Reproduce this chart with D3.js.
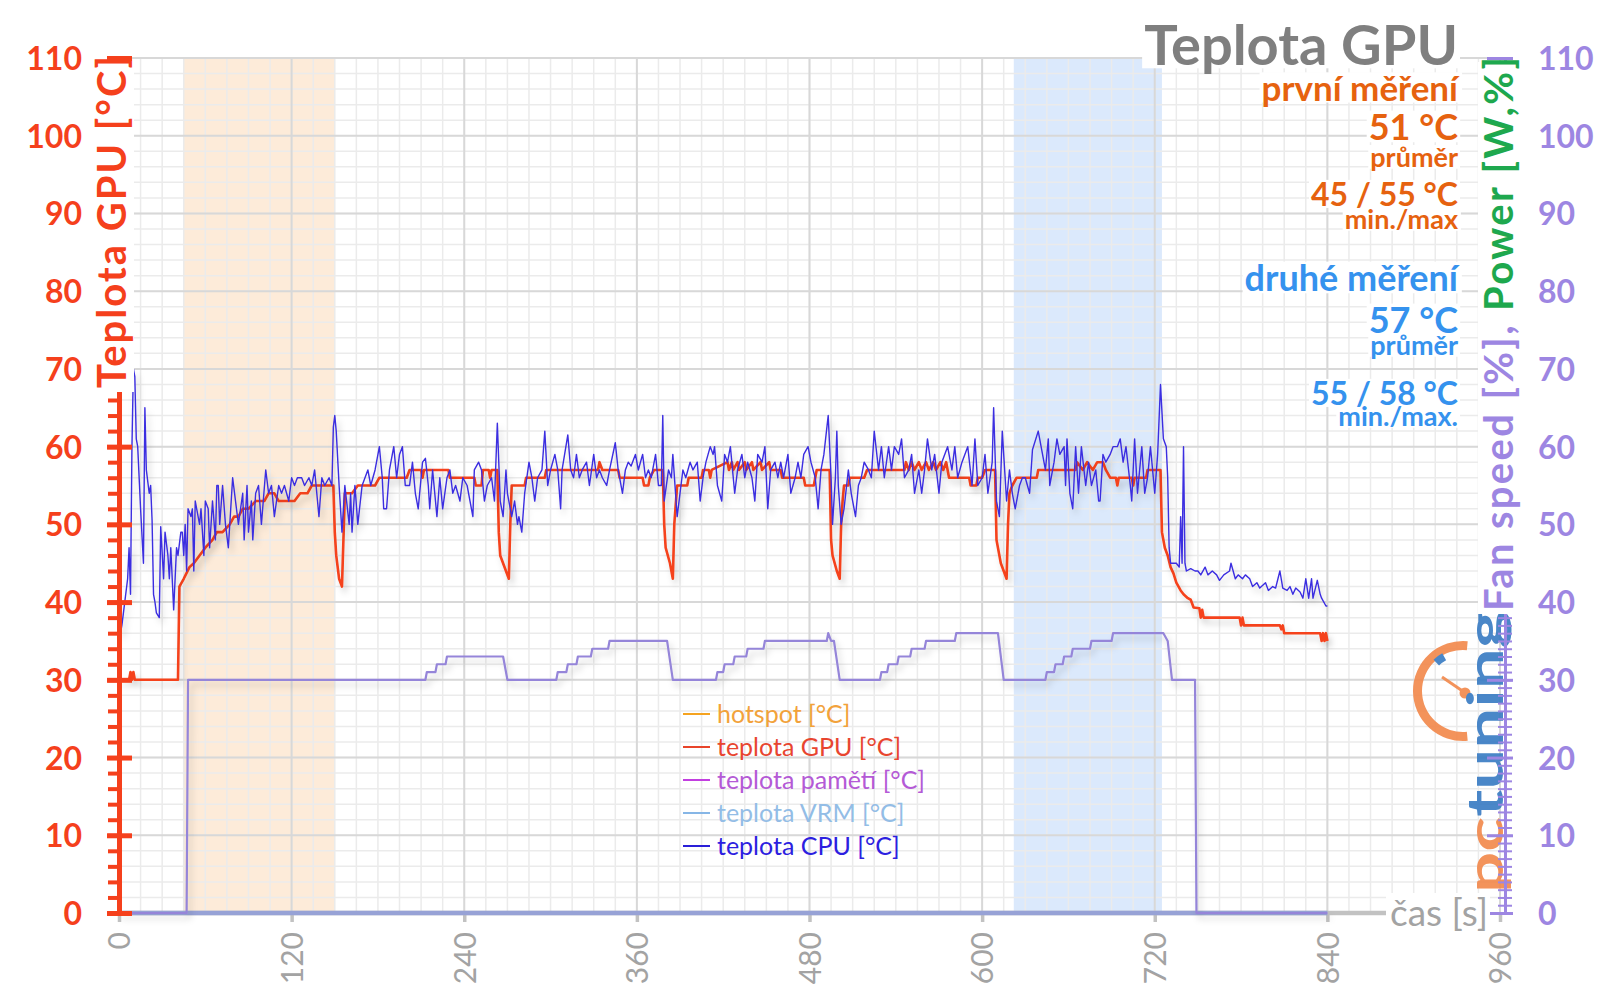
<!DOCTYPE html>
<html><head><meta charset="utf-8">
<script src="https://cdn.jsdelivr.net/npm/d3@7"></script>
<style>body{margin:0;background:#fff}svg{display:block;font-family:Lato,"Open Sans",sans-serif}</style>
</head><body>
<svg id="chart" width="1600" height="1008"></svg>
<script>
// ---------------- DATA ----------------
const xTicks = [0,120,240,360,480,600,720,840,960];
const yTicks = [0,10,20,30,40,50,60,70,80,90,100,110];
const xLabel = "čas [s]";
const yLeftTitle = "Teplota GPU [°C]";
const yRightTitleA = "Fan speed [%], ";
const yRightTitleB = "Power [W,%]";
const chartTitle = "Teplota GPU";
const statsFirst = ["první měření","51 °C","průměr","45 / 55 °C","min./max"];
const statsSecond = ["druhé měření","57 °C","průměr","55 / 58 °C","min./max."];
const legendNames = ["hotspot [°C]","teplota GPU [°C]","teplota pamětí [°C]","teplota VRM [°C]","teplota CPU [°C]"];
// highlighted measurement windows [start s, end s]
const windows = [[45,150],[622,725]];
// series lying on the zero line (hotspot / memory / VRM readings)
const zeroSeries = [[0,0],[840,0]];

const gpuTemp = [[0,30],[7,30],[8,31],[9,30],[10,31],[11,30],[41,30],[42,42],[45,43],[49,44.5],[52,45],[56,46],[60,47],[65,48],[68,49],[72,49],[77,50],[80,51],[83,51],[86,52],[90,52],[95,53],[101,53],[104,54],[108,54],[111,53],[122,53],[126,54],[131,54],[134,55],[149,55],[150,49],[151,46],[153,43],[155,42],[156,48],[157,54],[162,54],[166,55],[178,55],[181,56],[200,56],[202,57],[210,57],[211,56],[212,57],[229,57],[230,56],[247,56],[248,55],[252,55],[253,57],[257,57],[258,56],[259,57],[263,57],[264,49],[265,46],[267,45],[271,43],[272,50],[273,55],[282,55],[283,56],[296,56],[297,57],[333,57],[334,58],[336,57],[347,57],[348,56],[364,56],[365,55],[368,55],[369,56],[372,57],[378,57],[379,50],[380,47],[383,45],[385,43],[386,50],[388,55],[395,55],[396,56],[405,56],[406,57],[410,57],[411,56],[412,57],[423,58],[424,57],[426,58],[427,57],[430,58],[431,57],[435,58],[436,57],[440,58],[441,57],[446,58],[447,57],[452,58],[453,57],[460,57],[461,56],[476,56],[477,55],[483,55],[484,56],[485,57],[494,57],[495,48],[496,46],[499,44],[501,43],[502,50],[503,53],[504,55],[507,55],[508,56],[518,56],[520,57],[546,57],[547,58],[549,57],[551,58],[553,57],[556,58],[558,57],[561,58],[563,57],[566,58],[568,57],[571,58],[573,57],[575,58],[576,57],[577,56],[591,56],[592,55],[596,55],[597,56],[600,56],[602,57],[609,57],[610,48],[613,45],[615,44],[617,43],[618,50],[619,54],[621,55],[624,56],[638,56],[639,57],[665,57],[666,58],[670,57],[673,58],[677,57],[680,58],[684,58],[686,57],[689,56],[693,56],[694,55],[695,56],[704,56],[705,55],[706,56],[714,56],[715,57],[724,57],[725,49],[727,47],[729,46],[731,44.5],[733,43.7],[735,42.5],[738,41.5],[740,41],[743,40.5],[745,40.3],[747,39.3],[751,39.2],[752,38],[753,39],[754,38],[779,38],[780,37],[781,38],[782,37],[807,37],[808,36.5],[809,37],[810,36],[835,36],[836,35],[837,36],[838,35],[839,36],[840,35]];

const cpuTemp = [[0,40],[1,36],[2,37],[4,40],[6,43],[7,47],[8,41],[9,60],[10,70],[11,69],[12,61],[13,60],[15,52],[17,45],[18,65],[19,57],[21,54],[22,55],[23,50.5],[24,41],[25,40],[26,38.6],[28,38],[29,49.7],[31,43],[32,49],[34,46],[35,43],[36,47],[38,39],[40,47],[41,46],[43,49],[44,49],[45,46],[46,50],[47,44],[48,52],[50,51],[51,52],[52,44],[53,53],[55,51],[56,50],[57,52],[59,46],[60,53],[62,52],[63,47],[65,53],[67,48],[68,55],[69,55],[70,50],[72,55],[74,50],[76,47],[79,56],[81,53],[83,50],[86,54],[87,48],[89,55],[90,49],[92,53],[93,48],[95,54],[97,55],[99,50],[102,57],[104,54],[106,55],[108,51],[111,55],[113,54],[115,55],[118,53],[120,56],[122,55],[124,56],[127,56],[129,55],[132,56],[134,55],[136,57],[139,51],[141,56],[143,55],[146,56],[148,55],[149,62.5],[150,64],[151,62],[153,55],[155,49],[157,55],[160,50],[161,54],[162,49],[164,55],[166,50],[169,55],[171,56],[173,57],[175,55],[178,57],[181,60],[183,56],[184,52],[186,52],[188,57],[191,60],[193,56],[195,59],[197,60],[199,55],[202,55],[204,58],[206,54],[208,52],[211,58],[213,58.5],[215,55],[216,52],[218,57],[221,51],[223,56],[225,52],[228,56],[230,57],[232,54],[234,55],[237,53],[239,56],[242,55],[244,53],[246,51],[247,57],[250,58],[252,57],[254,53],[256,55],[259,56],[261,53],[263,63],[265,53],[267,51],[269,57],[270,54],[272,52],[273,51],[275,53],[277,50],[278,51],[280,49],[282,54],[285,58],[287,56],[289,53],[291,56],[294,57],[296,62],[298,55],[300,57],[303,59],[305,57],[307,52],[308,57],[312,61.5],[314,57],[316,56],[318,59],[320,56],[322,57],[325,58],[327,55],[330,59],[332,56],[334,57],[336,56],[339,55],[341,57],[345,60.5],[347,57],[350,54],[352,57],[354,58],[356,57.5],[359,59],[361,57],[364,59],[366,56],[368,57],[370,56],[373,59],[375,55],[377,55],[378,64],[379,53],[382,57],[384,56],[385,59],[388,51],[390,54],[392,57],[394,56],[397,58],[399,57],[402,58],[404,53],[406,56],[408,58],[411,60],[413,59],[414,60],[416,55],[419,53],[421,59],[423,58],[425,60],[428,54],[430,57],[433,59],[435,56],[437,58],[440,56],[442,53],[444,59],[447,58],[449,60],[451,52],[453,57],[456,58],[458,56],[460,58],[462,56],[465,59],[467,54],[470,56],[472,58],[474,56],[476,59],[479,60],[481,58],[484,56],[486,52],[488,57],[490,59],[493,64],[495,56],[496,50],[498,56],[499,62],[500,55],[502,50],[504,52],[507,57],[509,54],[512,51],[514,55],[516,56],[518,58],[521,57],[523,56],[525,62],[528,57],[530,60],[532,56],[535,60],[537,57],[539,60],[542,59],[544,61],[546,56],[549,57],[551,59],[553,54],[556,57],[558,54],[560,57],[562,61],[565,57],[567,59],[570,54],[572,58],[574,59],[576,60],[579,57],[581,60],[583,56],[586,58],[588,59],[590,60],[593,55],[595,61],[597,55],[600,56],[602,59],[604,54],[607,58],[608,65],[610,53],[612,51],[614,62],[617,53],[619,57],[621,54],[623,52],[626,55],[628,56],[630,56],[633,54],[635,59.6],[639,62],[641,60],[644,57],[646,61],[647,55],[650,58],[652,61],[654,59],[657,60],[658,55],[659,61],[661,54],[663,52],[665,60],[667,54],[669,60],[672,55],[674,58],[676,55],[679,57],[681,53],[682,53],[684,59],[686,58],[689,59],[691,60],[694,60],[696,61],[698,58],[700,60],[703,55],[704,53],[706,61],[708,54],[711,60],[713,54],[715,56],[717,60],[720,54],[722,59],[724,68],[726,61],[728,60],[729,56],[730,47],[731,45],[733,45],[735,45],[737,44.5],[738,51],[739,45],[740,60],[741,45],[742,44],[745,44.3],[748,44],[750,44],[752,43.5],[755,44.5],[757,43.5],[760,44],[763,43.5],[765,42.8],[768,43.5],[772,44],[773,45],[776,43],[778,43.5],[781,43],[783,43.5],[786,43],[788,42],[791,42.5],[793,41.8],[797,42.5],[799,41.5],[802,42],[804,41.8],[807,44],[809,41.8],[812,41.5],[814,42],[816,41],[818,41.8],[821,41.3],[823,40.5],[825,43],[827,40.5],[829,43],[830,40.5],[833,42.8],[835,41],[836,40.5],[839,39.5],[840,39.5]];

const fanSpeed = [[0,0],[47,0],[48,30],[213,30],[214,31],[220,31],[221,32],[227,32],[228,33],[267,33],[270,30],[304,30],[305,31],[311,31],[312,32],[318,32],[319,33],[328,33],[329,34],[340,34],[341,35],[381,35],[385,30],[415,30],[416,31],[420,31],[421,32],[427,32],[428,33],[436,33],[437,34],[448,34],[449,35],[492,35],[493,36],[495,35],[497,35],[501,30],[529,30],[530,31],[534,31],[535,32],[541,32],[542,33],[550,33],[551,34],[560,34],[561,35],[581,35],[582,36],[611,36],[615,30],[644,30],[645,31],[650,31],[651,32],[656,32],[657,33],[662,33],[663,34],[675,34],[676,35],[690,35],[691,36],[726,36],[729,35],[732,30],[748,30],[749,0],[840,0]];

// ---------------- STYLE ----------------
const C = {
  left:"#f5401c", right:"#9d86e2", green:"#1ea84e", gray:"#a3a3a3", title:"#7f7f7f",
  orange:"#e6620f", blue:"#3592ee",
  gpu:"#f5421b", cpu:"#3b2de0", fan:"#9585d9", zero:"#97a2d6",
  winFill:["#fdebd9","#dbe9fc"],
  legLine:["#f5a31f","#e8442a","#c23fe0","#86b6e6","#2a1fd8"],
  legText:["#f2a23a","#e8452f","#b45ad6","#93bde6","#2c20e0"]
};

const svg = d3.select("#chart");
const x = d3.scaleLinear().domain([0,960]).range([119,1500]);
const yL = d3.scaleLinear().domain([0,110]).range([913,58]);
const yR = d3.scaleLinear().domain([0,110]).range([913,58]);

svg.append("rect").attr("width",1600).attr("height",1008).attr("fill","#fff");

const defs = svg.append("defs");
const flt = defs.append("filter").attr("id","shadow").attr("x","-10%").attr("y","-20%").attr("width","125%").attr("height","150%");
flt.append("feDropShadow").attr("dx",3).attr("dy",5).attr("stdDeviation",3).attr("flood-color","#000").attr("flood-opacity",0.18);

// measurement windows
svg.append("g").selectAll("rect").data(windows).join("rect")
  .attr("x",d=>x(d[0])).attr("width",d=>x(d[1])-x(d[0]))
  .attr("y",yL(110)).attr("height",yL(0)-yL(110))
  .attr("fill",(d,i)=>C.winFill[i]);

// grid
const grid = svg.append("g");
grid.selectAll("line.vmin").data(d3.range(0,961,15)).join("line")
  .attr("x1",d=>x(d)).attr("x2",d=>x(d)).attr("y1",yL(110)).attr("y2",yL(0))
  .attr("stroke","#ebebeb").attr("stroke-width",1.5);
grid.selectAll("line.hmin").data(d3.range(0,111,2)).join("line")
  .attr("y1",d=>yL(d)).attr("y2",d=>yL(d)).attr("x1",x(0)).attr("x2",x(960))
  .attr("stroke","#ebebeb").attr("stroke-width",1.5);
grid.append("g").selectAll("line").data(xTicks).join("line")
  .attr("x1",d=>x(d)).attr("x2",d=>x(d)).attr("y1",yL(110)).attr("y2",yL(0))
  .attr("stroke","#d8d8d8").attr("stroke-width",2);
grid.append("g").selectAll("line").data(yTicks).join("line")
  .attr("y1",d=>yL(d)).attr("y2",d=>yL(d)).attr("x1",x(0)).attr("x2",x(960))
  .attr("stroke","#d8d8d8").attr("stroke-width",2);

// logo (pctuning)
const logo = svg.append("g").attr("opacity",0.92);
const arc = d3.arc();
logo.append("path").attr("transform","translate(1463,691)")
  .attr("d",arc({innerRadius:41,outerRadius:50,startAngle:Math.PI*0.97,endAngle:Math.PI*2.03}))
  .attr("fill","#f28a4e");
logo.append("path").attr("transform","translate(1463,691)")
  .attr("d",arc({innerRadius:35,outerRadius:43,startAngle:Math.PI*1.76,endAngle:Math.PI*1.84}))
  .attr("fill","#3b7dc4");
logo.append("line").attr("x1",1442).attr("y1",677).attr("x2",1464).attr("y2",692)
  .attr("stroke","#f28a4e").attr("stroke-width",3);
logo.append("circle").attr("cx",1465).attr("cy",693).attr("r",5.5).attr("fill","#f28a4e");
const lt = logo.append("text").attr("transform","translate(1503,893) rotate(-90)")
  .attr("font-size",50).attr("font-weight",700).attr("textLength",283).attr("lengthAdjust","spacingAndGlyphs");
lt.append("tspan").attr("fill","#f28a4e").text("pc");
lt.append("tspan").attr("fill","#3b7dc4").text("tuning");

// x axis (gray)
svg.append("line").attr("x1",x(0)).attr("x2",1392).attr("y1",yL(0)).attr("y2",yL(0))
  .attr("stroke","#c2c2c2").attr("stroke-width",4.5);
const xAx = svg.append("g").attr("transform",`translate(0,${yL(0)})`)
  .call(d3.axisBottom(x).tickValues(xTicks).tickSize(9).tickSizeOuter(0).tickFormat(d3.format("d")));
xAx.select(".domain").remove();
xAx.selectAll(".tick line").attr("stroke","#c2c2c2").attr("stroke-width",3.5);
xAx.selectAll(".tick text").attr("transform","rotate(-90)").attr("x",-19).attr("y",0).attr("dy","0.36em")
  .attr("text-anchor","end").attr("fill",C.gray).attr("font-size",30).attr("font-family","Lato");

// series
const line = (ys)=>d3.line().x(d=>x(d[0])).y(d=>ys(d[1]));
svg.append("path").datum(zeroSeries).attr("d",line(yL)).attr("fill","none").attr("stroke",C.zero).attr("stroke-width",4.5);
svg.append("path").datum(gpuTemp).attr("d",line(yL)).attr("fill","none").attr("stroke",C.gpu)
  .attr("stroke-width",2.6).attr("stroke-linejoin","round").attr("filter","url(#shadow)");
svg.append("path").datum(cpuTemp).attr("d",line(yL)).attr("fill","none").attr("stroke",C.cpu)
  .attr("stroke-width",1.4).attr("stroke-linejoin","round").attr("filter","url(#shadow)");
svg.append("path").datum(fanSpeed).attr("d",line(yR)).attr("fill","none").attr("stroke",C.fan)
  .attr("stroke-width",2.2).attr("stroke-linejoin","round").attr("filter","url(#shadow)");

// left axis
const lMinor = svg.append("g").attr("transform",`translate(${x(0)},0)`)
  .call(d3.axisLeft(yL).tickValues(d3.range(0,111,2)).tickSize(11).tickSizeOuter(0).tickFormat(""));
lMinor.select(".domain").attr("stroke",C.left).attr("stroke-width",5);
lMinor.selectAll(".tick line").attr("stroke",C.left).attr("stroke-width",4);
const lMajor = svg.append("g").attr("transform",`translate(${x(0)},0)`)
  .call(d3.axisLeft(yL).tickValues(yTicks).tickSize(12).tickSizeOuter(0));
lMajor.select(".domain").remove();
lMajor.selectAll(".tick line").attr("x1",13).attr("x2",-12).attr("stroke",C.left).attr("stroke-width",5);
lMajor.selectAll(".tick text").attr("x",-37).attr("dy","0.36em").attr("fill",C.left)
  .attr("font-size",32).attr("font-weight",700).attr("font-family","Lato");

// right axis
const rx = 1505;
const rMinor = svg.append("g").attr("transform",`translate(${rx},0)`)
  .call(d3.axisRight(yR).tickValues(d3.range(0,111,1)).tickSize(7).tickSizeOuter(0).tickFormat(""));
rMinor.select(".domain").attr("stroke",C.right).attr("stroke-width",3);
rMinor.selectAll(".tick line").attr("x1",-7).attr("stroke",C.right).attr("stroke-width",2);
const rMajor = svg.append("g").attr("transform",`translate(${rx},0)`)
  .call(d3.axisRight(yR).tickValues(yTicks).tickSize(8).tickSizeOuter(0));
rMajor.select(".domain").remove();
rMajor.selectAll(".tick line").attr("x1",-18).attr("stroke",C.right).attr("stroke-width",3);
rMajor.selectAll(".tick text").attr("x",33).attr("dy","0.36em").attr("fill",C.right)
  .attr("font-size",32).attr("font-weight",700).attr("font-family","Lato");

// axis titles (with white boxes)
svg.append("rect").attr("x",94).attr("y",62).attr("width",40).attr("height",330).attr("fill","#fff");
svg.append("text").attr("transform","translate(126,222) rotate(-90)").attr("text-anchor","middle")
  .attr("font-size",40).attr("font-weight",700).attr("fill",C.left)
  .attr("textLength",332).attr("lengthAdjust","spacing").text(yLeftTitle);
svg.append("rect").attr("x",1478).attr("y",62).attr("width",44).attr("height",552).attr("fill","#fff");
const rt = svg.append("text").attr("transform","translate(1513,334) rotate(-90)").attr("text-anchor","middle")
  .attr("font-size",40).attr("font-weight",700).attr("textLength",554).attr("lengthAdjust","spacing");
rt.append("tspan").attr("fill",C.right).text(yRightTitleA);
rt.append("tspan").attr("fill",C.green).text(yRightTitleB);

// x axis title
svg.append("rect").attr("x",1386).attr("y",893).attr("width",104).attr("height",44).attr("fill","#fff");
svg.append("text").attr("x",1390).attr("y",yL(0)).attr("dy","0.36em").attr("font-size",37)
  .attr("fill",C.gray).text(xLabel);

// title & stats: white backing boxes drawn first, then all texts on top
const boxLayer = svg.append("g");
const textLayer = svg.append("g");
function label(txt,y,size,color){
  const t = textLayer.append("text").attr("x",1458).attr("y",y).attr("text-anchor","end")
    .attr("font-size",size).attr("font-weight",700).attr("fill",color).text(txt);
  const b = t.node().getBBox();
  boxLayer.append("rect").attr("fill","#fff")
    .attr("x",b.x-2).attr("y",b.y+b.height*0.15).attr("width",b.width+4).attr("height",b.height*0.72);
}
label(chartTitle,65,56,C.title);
const firstLayout = [[101,35],[140,36],[167,27],[206,32],[229,27]];
const secondLayout = [[291,36],[333,36],[355,27],[405,32],[426,27]];
statsFirst.forEach((s,i)=>label(s,firstLayout[i][0],firstLayout[i][1],C.orange));
statsSecond.forEach((s,i)=>label(s,secondLayout[i][0],secondLayout[i][1],C.blue));

// legend
const leg = svg.append("g").attr("transform","translate(683,714)");
const li = leg.selectAll("g").data(legendNames).join("g").attr("transform",(d,i)=>`translate(0,${i*33})`);
li.append("line").attr("x1",0).attr("x2",27).attr("stroke",(d,i)=>C.legLine[i]).attr("stroke-width",2);
li.append("text").attr("x",34).attr("dy","0.35em").attr("font-size",25).attr("fill",(d,i)=>C.legText[i]).text(d=>d);
</script>
</body></html>
